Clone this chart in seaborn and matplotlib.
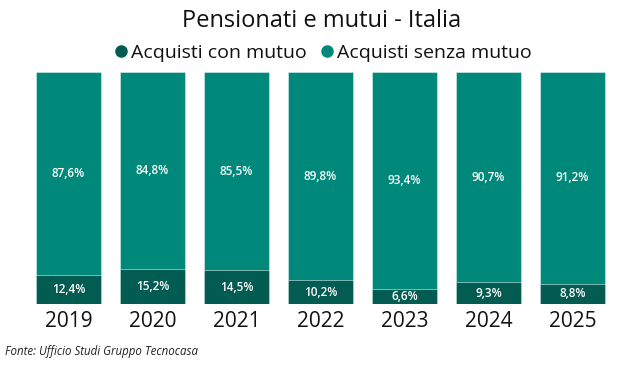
import matplotlib
matplotlib.use("Agg")
import matplotlib.pyplot as plt
from matplotlib.lines import Line2D
import pandas as pd
import seaborn as sns

years = ["2019", "2020", "2021", "2022", "2023", "2024", "2025"]
con_mutuo = [12.4, 15.2, 14.5, 10.2, 6.6, 9.3, 8.8]
senza_mutuo = [87.6, 84.8, 85.5, 89.8, 93.4, 90.7, 91.2]

dark = "#035c52"
light = "#00897b"

sns.set_theme(style="white")
plt.rcParams["font.family"] = ["Open Sans", "DejaVu Sans"]

df = pd.DataFrame({"anno": years, "con": con_mutuo, "senza": senza_mutuo})
df["totale"] = df["con"] + df["senza"]

fig = plt.figure(figsize=(6.43, 3.67), dpi=100)
ax = fig.add_axes([26.5 / 643, 1 - 304 / 367, 588 / 643, 232 / 367])

sns.barplot(data=df, x="anno", y="totale", color=light, width=0.78,
            edgecolor="#d8efec", linewidth=0.4, saturation=1, ax=ax)
sns.barplot(data=df, x="anno", y="con", color=dark, width=0.78,
            edgecolor="#d8efec", linewidth=0.4, saturation=1, ax=ax)

def fmt(v):
    return f"{v:.1f}%".replace(".", ",")

for i, (c, s) in enumerate(zip(con_mutuo, senza_mutuo)):
    ax.text(i, c / 2, fmt(c), ha="center", va="center", color="white",
            fontsize=8.5, fontweight="semibold")
    ax.text(i, c + s / 2, fmt(s), ha="center", va="center", color="white",
            fontsize=8.5, fontweight="semibold")

ax.set_xlim(-0.5, 6.5)
ax.set_ylim(0, 100)
ax.set_yticks([])
ax.set_xlabel("")
ax.set_ylabel("")
ax.tick_params(axis="x", length=0, labelsize=15, pad=5, colors="#111111")
sns.despine(ax=ax, left=True, bottom=True)

fig.text(0.5, 1 - 21 / 367, "Pensionati e mutui - Italia", ha="center",
         va="center", fontsize=17, color="#111111")

handles = [
    Line2D([0], [0], marker="o", linestyle="", color=dark, markersize=8),
    Line2D([0], [0], marker="o", linestyle="", color=light, markersize=8),
]
fig.legend(handles, ["Acquisti con mutuo", "Acquisti senza mutuo"],
           loc="center", bbox_to_anchor=(0.5, 1 - 53 / 367), ncol=2,
           frameon=False, fontsize=14, handletextpad=0.05,
           columnspacing=0.5, handlelength=1.0, borderaxespad=0,
           labelcolor="#111111")

fig.text(5 / 643, 1 - 352 / 367, "Fonte: Ufficio Studi Gruppo Tecnocasa",
         ha="left", va="center", fontsize=8.3, style="italic", color="#222222")

fig.savefig("out.png", dpi=100)
